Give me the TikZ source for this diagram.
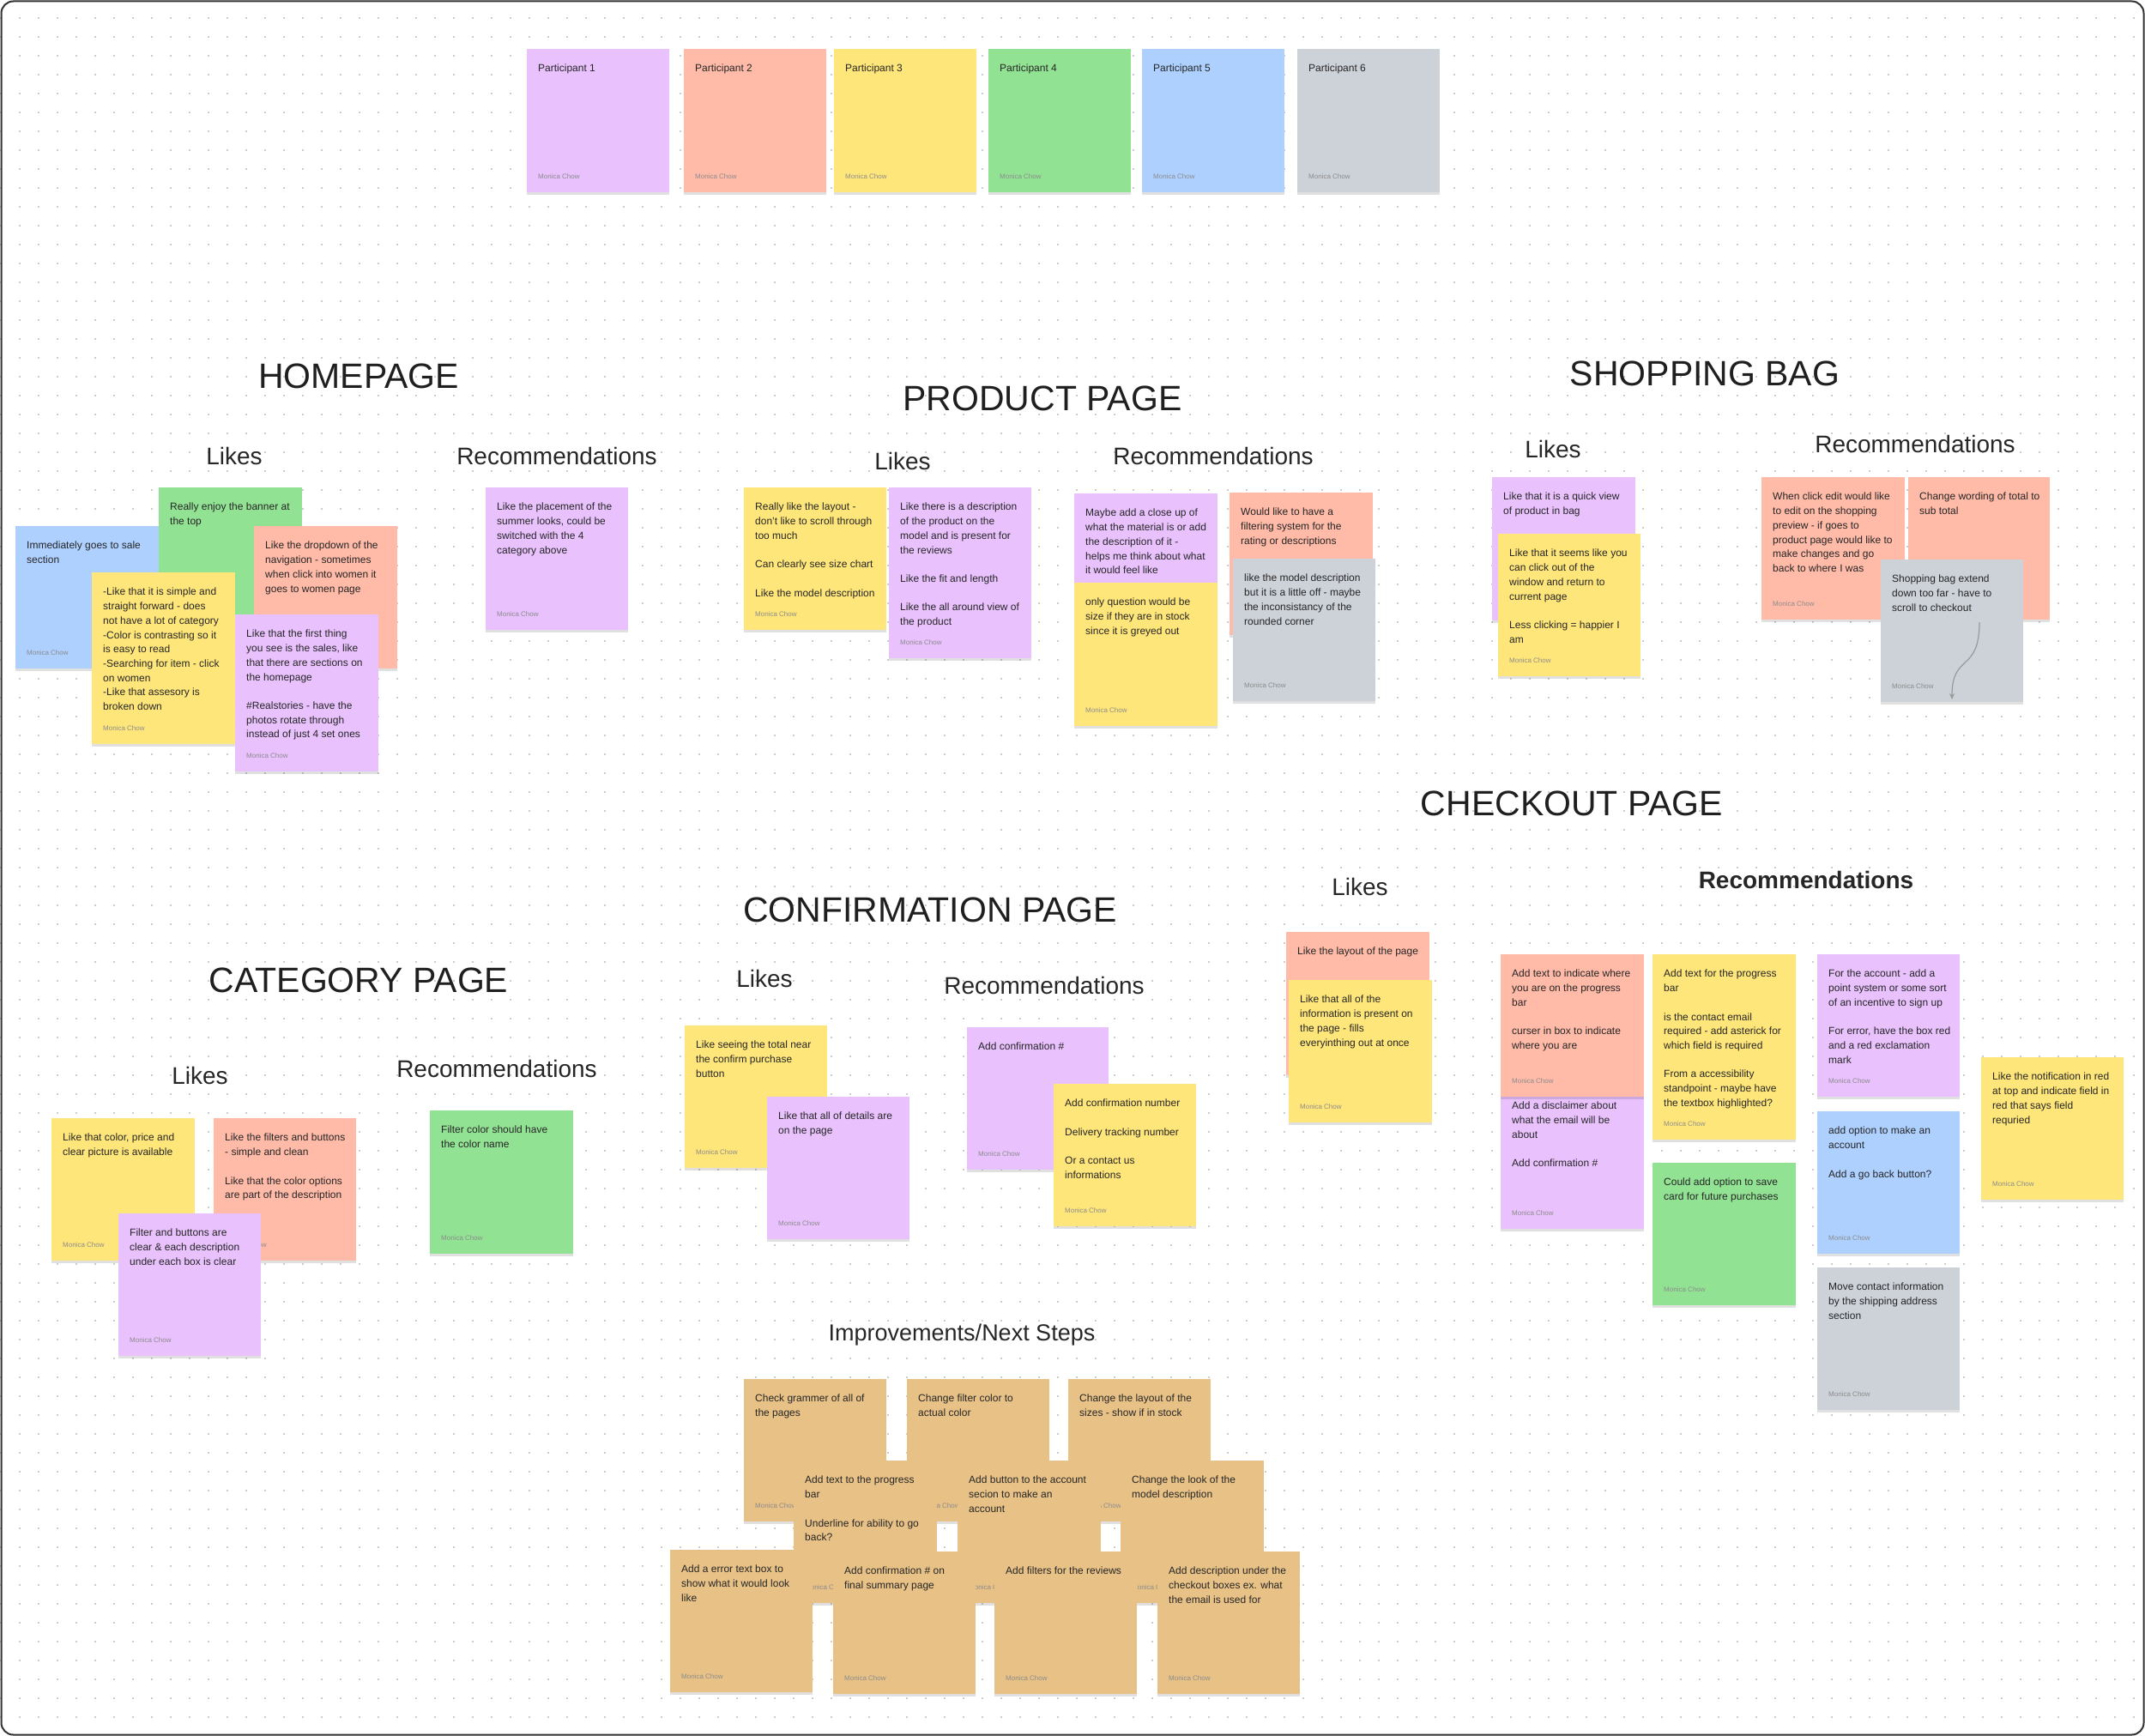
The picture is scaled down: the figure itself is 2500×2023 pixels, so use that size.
\documentclass[tikz,border=0pt]{standalone}
\usepackage{fontspec}
\setmainfont{Liberation Sans}
\usetikzlibrary{arrows.meta, shadows}

\definecolor{notepurple}{HTML}{E8C1FD}
\definecolor{notesalmon}{HTML}{FFBAA8}
\definecolor{noteyellow}{HTML}{FFE67A}
\definecolor{notegreen}{HTML}{92E294}
\definecolor{noteblue}{HTML}{AED0FF}
\definecolor{notegray}{HTML}{CDD1D8}
\definecolor{notetan}{HTML}{E8C187}

% sticky note: [byline], name, x, y (top left), width, height, colour, text
\newcommand{\sticky}[8][Monica Chow]{%
  \node[note, fill=#7, minimum width=#5pt, minimum height=#6pt] (#2) at (#3,#4) {};
  \node[notetext] (#2-txt) at ([shift={(13,18)}]#2.north west) {#8};
  \node[byline] (#2-by) at ([shift={(13,-16)}]#2.south west) {#1};
}

\begin{document}
\begin{tikzpicture}[
        x=1pt, y=-1pt,
        note/.style={rectangle, anchor=north west, inner sep=0pt, drop shadow={shadow xshift=0pt, shadow yshift=-3pt, opacity=0.12, fill=black}},
        notetext/.style={anchor=north west, inner sep=0pt, align=left, text=black!85, font=\fontsize{12}{16.7}\selectfont},
        byline/.style={anchor=base west, inner sep=0pt, text=black!45, font=\fontsize{8}{10}\selectfont},
        title/.style={text=black!88, inner sep=0pt, font=\fontsize{41}{49}\selectfont},
        subhead/.style={text=black!85, inner sep=0pt, font=\fontsize{28}{34}\selectfont},
        griddot/.style={black!20, line width=2pt, dash pattern=on 2pt off 20pt},
        squiggle/.style={black!40, line width=1.2pt, -{Stealth[length=7pt, width=6pt]}}
    ]

    \useasboundingbox (0,0) rectangle (2500,2023);

    % Board
    \foreach \r in {0,...,90}
        \draw[griddot] (0,21+22*\r) -- (2500,21+22*\r);
    \draw[black!80, line width=2pt, rounded corners=14pt] (1.5,1.5) rectangle (2498.5,2021.5);

    % Participants
    \sticky{p1}{614}{57}{166}{167}{notepurple}{Participant 1}
    \sticky{p2}{797}{57}{166}{167}{notesalmon}{Participant 2}
    \sticky{p3}{972}{57}{166}{167}{noteyellow}{Participant 3}
    \sticky{p4}{1152}{57}{166}{167}{notegreen}{Participant 4}
    \sticky{p5}{1331}{57}{166}{167}{noteblue}{Participant 5}
    \sticky{p6}{1512}{57}{166}{167}{notegray}{Participant 6}

    % Titles
    \node[title] (home-title) at (418,438) {HOMEPAGE};
    \node[title] (prod-title) at (1215,464) {PRODUCT PAGE};
    \node[title] (bag-title) at (1987,435) {SHOPPING BAG};
    \node[title] (check-title) at (1832,936) {CHECKOUT PAGE};
    \node[title] (conf-title) at (1084,1060) {CONFIRMATION PAGE};
    \node[title] (cat-title) at (418,1142) {CATEGORY PAGE};
    \node[subhead, font=\fontsize{27}{32}\selectfont] (next-title) at (1121,1556) {Improvements/Next Steps};

    \node[subhead] (home-likes) at (273,531) {Likes};
    \node[subhead] (home-recs) at (649,531) {Recommendations};
    \node[subhead] (prod-likes) at (1052,537) {Likes};
    \node[subhead] (prod-recs) at (1414,531) {Recommendations};
    \node[subhead] (bag-likes) at (1810,523) {Likes};
    \node[subhead] (bag-recs) at (2232,517) {Recommendations};
    \node[subhead] (check-likes) at (1585,1033) {Likes};
    \node[subhead, font=\fontsize{28}{34}\selectfont\bfseries] (check-recs) at (2105,1025) {Recommendations};
    \node[subhead] (conf-likes) at (891,1140) {Likes};
    \node[subhead] (conf-recs) at (1217,1148) {Recommendations};
    \node[subhead] (cat-likes) at (233,1253) {Likes};
    \node[subhead] (cat-recs) at (579,1245) {Recommendations};

    % Homepage
    \sticky[]{hg}{185}{568}{167}{166}{notegreen}{Really enjoy the banner at\\the top}
    \sticky{hb}{18}{613}{167}{166}{noteblue}{Immediately goes to sale\\section}
    \sticky[]{hs}{296}{613}{167}{166}{notesalmon}{Like the dropdown of the\\navigation - sometimes\\when click into women it\\goes to women page}
    \sticky{hy}{107}{667}{167}{200}{noteyellow}{-Like that it is simple and\\straight forward - does\\not have a lot of category\\-Color is contrasting so it\\is easy to read\\-Searching for item - click\\on women\\-Like that assesory is\\broken down}
    \sticky{hp}{274}{716}{167}{183}{notepurple}{Like that the first thing\\you see is the sales, like\\that there are sections on\\the homepage\\[16.7pt]\#Realstories - have the\\photos rotate through\\instead of just 4 set ones}
    \sticky{hr}{566}{568}{166}{166}{notepurple}{Like the placement of the\\summer looks, could be\\switched with the 4\\category above}

    % Product page
    \sticky{pl1}{867}{568}{166}{166}{noteyellow}{Really like the layout -\\don't like to scroll through\\too much\\[16.7pt]Can clearly see size chart\\[16.7pt]Like the model description}
    \sticky{pl2}{1036}{568}{166}{199}{notepurple}{Like there is a description\\of the product on the\\model and is present for\\the reviews\\[16.7pt]Like the fit and length\\[16.7pt]Like the all around view of\\the product}
    \sticky[]{pr1}{1252}{575}{167}{166}{notepurple}{Maybe add a close up of\\what the material is or add\\the description of it -\\helps me think about what\\it would feel like}
    \sticky{pr2}{1252}{679}{167}{167}{noteyellow}{only question would be\\size if they are in stock\\since it is greyed out}
    \sticky[]{pr3}{1433}{574}{167}{166}{notesalmon}{Would like to have a\\filtering system for the\\rating or descriptions}
    \sticky{pr4}{1437}{651}{166}{166}{notegray}{like the model description\\but it is a little off - maybe\\the inconsistancy of the\\rounded corner}

    % Shopping bag
    \sticky[]{sl1}{1739}{556}{167}{167}{notepurple}{Like that it is a quick view\\of product in bag}
    \sticky{sl2}{1746}{622}{166}{166}{noteyellow}{Like that it seems like you\\can click out of the\\window and return to\\current page\\[16.7pt]Less clicking = happier I\\am}
    \sticky{sr1}{2053}{556}{167}{166}{notesalmon}{When click edit would like\\to edit on the shopping\\preview - if goes to\\product page would like to\\make changes and go\\back to where I was}
    \sticky[]{sr2}{2224}{556}{165}{166}{notesalmon}{Change wording of total to\\sub total}
    \sticky{sr3}{2192}{652}{166}{166}{notegray}{Shopping bag extend\\down too far - have to\\scroll to checkout}
    \coordinate (sr3-from) at (2307,725);
    \coordinate (sr3-to) at (2275,815);
    \draw[squiggle] (sr3-from) .. controls +(0,60) and +(0,-55) .. (sr3-to);

    % Checkout page
    \sticky[]{cl1}{1499}{1086}{167}{167}{notesalmon}{Like the layout of the page}
    \sticky{cl2}{1502}{1142}{167}{166}{noteyellow}{Like that all of the\\information is present on\\the page - fills\\everyinthing out at once}
    \sticky{cr2}{1749}{1266}{167}{166}{notepurple}{Add a disclaimer about\\what the email will be\\about\\[16.7pt]Add confirmation \#}
    \sticky{cr1}{1749}{1112}{167}{166}{notesalmon}{Add text to indicate where\\you are on the progress\\bar\\[16.7pt]curser in box to indicate\\where you are}
    \sticky{cr3}{1926}{1112}{167}{216}{noteyellow}{Add text for the progress\\bar\\[16.7pt]is the contact email\\required - add asterick for\\which field is required\\[16.7pt]From a accessibility\\standpoint - maybe have\\the textbox highlighted?}
    \sticky{cr4}{1926}{1355}{167}{166}{notegreen}{Could add option to save\\card for future purchases}
    \sticky{cr5}{2118}{1112}{166}{166}{notepurple}{For the account - add a\\point system or some sort\\of an incentive to sign up\\[16.7pt]For error, have the box red\\and a red exclamation\\mark}
    \sticky{cr6}{2118}{1295}{166}{166}{noteblue}{add option to make an\\account\\[16.7pt]Add a go back button?}
    \sticky{cr7}{2118}{1477}{166}{166}{notegray}{Move contact information\\by the shipping address\\section}
    \sticky{cr8}{2309}{1232}{166}{166}{noteyellow}{Like the notification in red\\at top and indicate field in\\red that says field\\requried}

    % Confirmation page
    \sticky{fl1}{798}{1195}{166}{166}{noteyellow}{Like seeing the total near\\the confirm purchase\\button}
    \sticky{fl2}{894}{1278}{166}{166}{notepurple}{Like that all of details are\\on the page}
    \sticky{fr1}{1127}{1197}{165}{166}{notepurple}{Add confirmation \#}
    \sticky{fr2}{1228}{1263}{166}{166}{noteyellow}{Add confirmation number\\[16.7pt]Delivery tracking number\\[16.7pt]Or a contact us\\informations}

    % Category page
    \sticky{gl1}{60}{1303}{167}{166}{noteyellow}{Like that color, price and\\clear picture is available}
    \sticky{gl2}{249}{1303}{166}{166}{notesalmon}{Like the filters and buttons\\- simple and clean\\[16.7pt]Like that the color options\\are part of the description}
    \sticky{gl3}{138}{1414}{166}{166}{notepurple}{Filter and buttons are\\clear \& each description\\under each box is clear}
    \sticky{gr1}{501}{1294}{167}{167}{notegreen}{Filter color should have\\the color name}

    % Improvements / next steps
    \sticky{n1}{867}{1607}{166}{166}{notetan}{Check grammer of all of\\the pages}
    \sticky{n2}{1057}{1607}{166}{166}{notetan}{Change filter color to\\actual color}
    \sticky{n3}{1245}{1607}{166}{166}{notetan}{Change the layout of the\\sizes - show if in stock}
    \sticky{n4}{925}{1702}{167}{166}{notetan}{Add text to the progress\\bar\\[16.7pt]Underline for ability to go\\back?}
    \sticky{n5}{1116}{1702}{167}{166}{notetan}{Add button to the account\\secion to make an\\account}
    \sticky{n6}{1306}{1702}{167}{166}{notetan}{Change the look of the\\model description}
    \sticky{n7}{781}{1806}{166}{166}{notetan}{Add a error text box to\\show what it would look\\like}
    \sticky{n8}{971}{1808}{166}{166}{notetan}{Add confirmation \# on\\final summary page}
    \sticky{n9}{1159}{1808}{166}{166}{notetan}{Add filters for the reviews}
    \sticky{n10}{1349}{1808}{166}{166}{notetan}{Add description under the\\checkout boxes ex. what\\the email is used for}

\end{tikzpicture}
\end{document}
